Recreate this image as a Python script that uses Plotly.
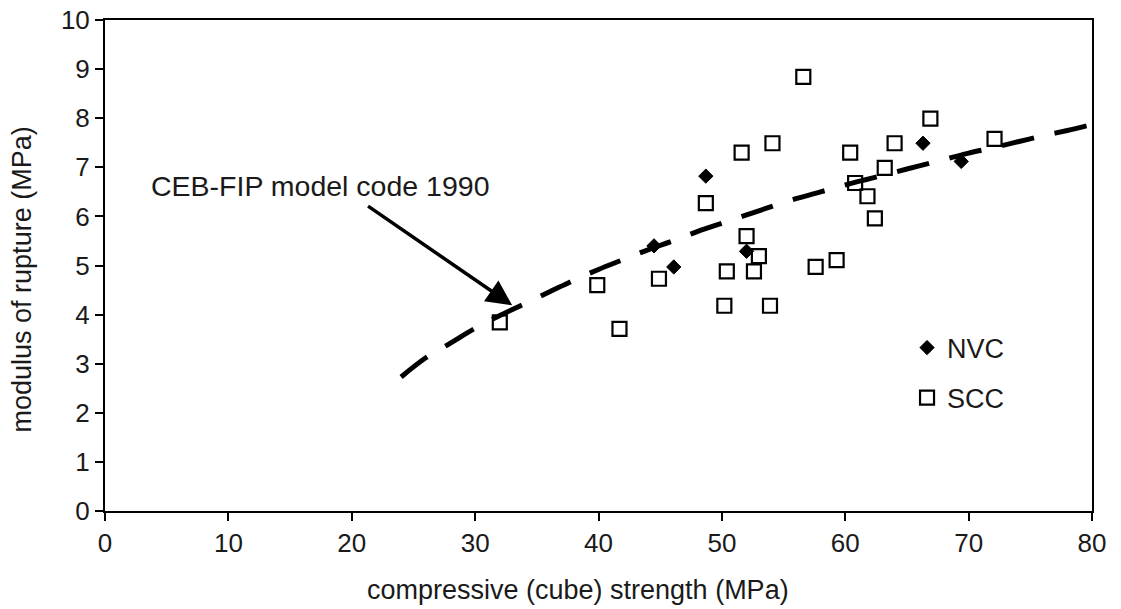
import plotly.graph_objects as go

# Normal vibrated concrete (NVC) specimens
nvc_strength = [44.5, 46.1, 48.7, 52.0, 66.3, 69.4]
nvc_rupture = [5.40, 4.97, 6.82, 5.29, 7.49, 7.12]

# Self-compacting concrete (SCC) specimens
scc_strength = [32.0, 39.9, 41.7, 44.9, 48.7, 50.2, 50.4, 51.6, 52.0, 52.6, 53.0, 53.9,
                54.1, 56.6, 57.6, 59.3, 60.4, 60.8, 61.8, 62.4, 63.2, 64.0, 66.9, 72.1]
scc_rupture = [3.84, 4.60, 3.71, 4.73, 6.27, 4.18, 4.88, 7.30, 5.60, 4.88, 5.19, 4.18,
               7.49, 8.84, 4.97, 5.11, 7.30, 6.68, 6.41, 5.96, 6.99, 7.49, 7.99, 7.58]

# CEB-FIP model code 1990 prediction
ceb_strength = [24, 26, 28, 30, 32, 34, 36, 38, 40, 42, 44, 46, 48, 50, 52, 54, 56, 58,
                60, 62, 64, 66, 68, 70, 72, 74, 76, 78, 80]
ceb_rupture = [2.73, 3.12, 3.42, 3.72, 3.98, 4.22, 4.46, 4.70, 4.92, 5.12, 5.32, 5.50,
               5.69, 5.86, 6.03, 6.20, 6.36, 6.50, 6.64, 6.77, 6.90, 7.03, 7.16, 7.29,
               7.40, 7.52, 7.64, 7.75, 7.87]

x_ticks = [0, 10, 20, 30, 40, 50, 60, 70, 80]
y_ticks = [0, 1, 2, 3, 4, 5, 6, 7, 8, 9, 10]

FONT = "Liberation Sans, Arial, Helvetica, sans-serif"
INK = "#1a1a1a"

fig = go.Figure()

fig.add_trace(go.Scatter(
    x=nvc_strength, y=nvc_rupture, mode="markers", name="NVC",
    legendgroup="nvc",
    marker=dict(symbol="diamond", size=11, color="black", line=dict(color="black", width=1)),
))
fig.add_trace(go.Scatter(
    x=scc_strength, y=scc_rupture, mode="markers", name="SCC",
    legendgroup="scc",
    marker=dict(symbol="square-open", size=14, color="black", line=dict(color="black", width=2.2)),
))
fig.add_trace(go.Scatter(
    x=ceb_strength, y=ceb_rupture, mode="lines", name="CEB-FIP model code 1990",
    showlegend=False,
    line=dict(color="black", width=5, dash="33px,21px", shape="spline"),
))

# Pointer from the label to the model curve
fig.add_annotation(
    x=33.0, y=4.19, xref="x", yref="y",
    ax=21.2, ay=6.23, axref="x", ayref="y",
    text="", showarrow=True,
    arrowhead=2, arrowsize=1.45, arrowwidth=3.5, arrowcolor="black", standoff=0,
)
fig.add_annotation(
    x=17.5, y=6.61, xref="x", yref="y",
    text="CEB-FIP model code 1990", showarrow=False,
    font=dict(family=FONT, size=28.5, color=INK),
)

# Axis titles
fig.add_annotation(
    x=0.479, y=-0.161, xref="paper", yref="paper",
    xanchor="center", yanchor="middle",
    text="compressive (cube) strength (MPa)", showarrow=False,
    font=dict(family=FONT, size=27, color=INK),
)
fig.add_annotation(
    x=-0.0831, y=0.4715, xref="paper", yref="paper",
    xanchor="center", yanchor="middle", textangle=-90,
    text="modulus of rupture (MPa)", showarrow=False,
    font=dict(family=FONT, size=27, color=INK),
)

axis_common = dict(
    showline=True, linecolor="black", linewidth=2, mirror=True,
    ticks="outside", ticklen=8, tickwidth=2, tickcolor="black",
    showgrid=False, zeroline=False,
    tickfont=dict(family=FONT, size=26, color=INK),
)

fig.update_xaxes(
    range=[0, 80], tickvals=x_ticks, ticktext=[str(v) for v in x_ticks],
    **axis_common,
)
fig.update_yaxes(
    range=[0, 10], tickvals=y_ticks, ticktext=[str(v) for v in y_ticks],
    **axis_common,
)

fig.update_layout(
    width=1121, height=609,
    margin=dict(l=105, r=29, t=20, b=98, autoexpand=False),
    paper_bgcolor="white", plot_bgcolor="white",
    showlegend=True,
    legend=dict(
        x=0.8126, y=0.281, xanchor="left", yanchor="middle",
        bgcolor="rgba(0,0,0,0)", borderwidth=0,
        font=dict(family=FONT, size=27, color=INK),
        traceorder="grouped", tracegroupgap=12,
    ),
)

fig.write_html("out.html")
